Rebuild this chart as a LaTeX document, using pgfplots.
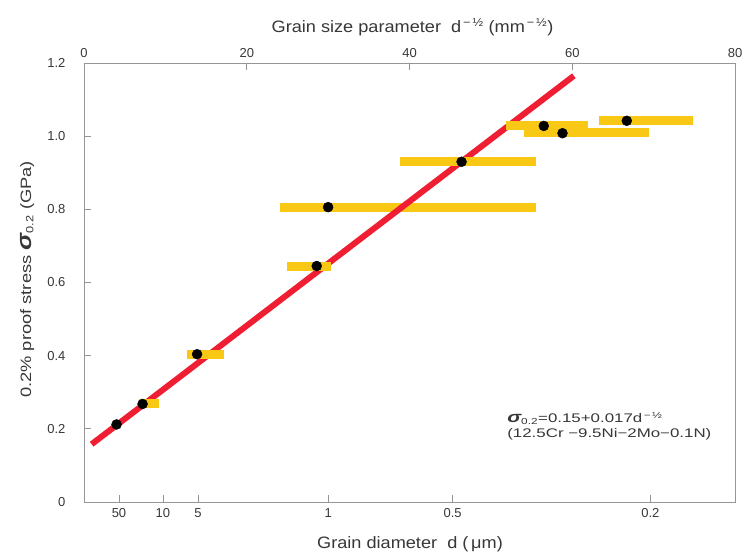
\documentclass[border=0pt]{standalone}
\usepackage{pgfplots}
\pgfplotsset{compat=1.18}
\usepackage{fontspec}
\setmainfont{Liberation Sans}
\newfontfamily\widea{Liberation Sans}[FakeStretch=1.1]
\newfontfamily\wideb{Liberation Sans}[FakeStretch=1.22]
\newfontfamily\widec{Liberation Sans}[FakeStretch=1.35]
\usetikzlibrary{calc}
\definecolor{redline}{RGB}{240,30,50}
\definecolor{goldbar}{RGB}{248,200,20}
\definecolor{axgray}{RGB}{150,150,150}
\definecolor{txt}{RGB}{55,55,55}
\begin{document}
\begin{tikzpicture}
\pgfplotsset{
 base/.style={scale only axis, width=651pt, height=439pt,
  xmin=0, xmax=80, ymin=0, ymax=1.2,
  axis line style={axgray, line width=0.8pt},
  tick style={axgray, line width=0.8pt},
  tick align=inside,
  ticklabel style={font=\fontsize{13}{15}\selectfont, text=txt},
  /pgf/number format/assume math mode=true,
 }
}
\begin{axis}[base, name=main,
  major tick length=7pt,
  xtick={4.3,9.7,14.0,30.0,45.3,69.6},
  xticklabels={50,10,5,1,0.5,0.2},
  xtick pos=bottom,
  xticklabel style={yshift=-3pt},
  ytick={0,0.2,0.4,0.6,0.8,1.0,1.2},
  yticklabels={0,0.2,0.4,0.6,0.8,1.0,1.2},
  ytick pos=left,
  yticklabel style={xshift=-15pt},
]
% wide bar drawn below the line
\addplot[goldbar, line width=9pt] coordinates {(24.1,0.806) (55.5,0.806)};
% Hall-Petch line
\addplot[redline, line width=6pt] coordinates {(0.94,0.158) (60.2,1.165)};
% other range bars
\addplot[goldbar, line width=9pt] coordinates {(6.7,0.268) (9.2,0.268)};
\addplot[goldbar, line width=9pt] coordinates {(12.6,0.402) (17.2,0.402)};
\addplot[goldbar, line width=9pt] coordinates {(25.0,0.645) (30.4,0.645)};
\addplot[goldbar, line width=9pt] coordinates {(38.8,0.932) (55.5,0.932)};
\addplot[goldbar, line width=9pt] coordinates {(54.1,1.009) (69.4,1.009)};
\addplot[goldbar, line width=9pt] coordinates {(51.9,1.028) (61.9,1.028)};
\addplot[goldbar, line width=9pt] coordinates {(63.3,1.042) (74.8,1.042)};
% data points
\addplot[only marks, mark=*, mark size=5pt, black] coordinates {
 (4.0,0.212) (7.2,0.268) (13.9,0.404) (28.6,0.645) (30.0,0.806)
 (46.4,0.930) (56.5,1.028) (58.8,1.008) (66.7,1.042)};
\node[anchor=base west, align=left, text=txt, font=\widec\fontsize{12.5}{15}\selectfont, inner sep=0pt]
  at (axis cs:52.0,0.175)
  {{\fontsize{15.5}{15}\bfseries\itshape σ}\textsubscript{0.2}=0.15+0.017d\textsuperscript{\,−\,½}\\
   (12.5Cr −9.5Ni−2Mo−0.1N)};
\end{axis}
\begin{axis}[base,
  axis x line*=top, axis y line=none,
  major tick length=7pt,
  xtick={0,20,40,60,80},
  xticklabel style={yshift=2pt},
]
\end{axis}
\node[anchor=base, text=txt, font=\widea\fontsize{16.5}{18}\selectfont] at ($(main.north)+(3pt,30pt)$)
  {Grain size parameter\ \ d\textsuperscript{\,−\,½}\ (mm\textsuperscript{\,−\,½})};
\node[anchor=base, text=txt, font=\widea\fontsize{16.5}{18}\selectfont] at ($(main.south)+(0.5pt,-46pt)$)
  {Grain diameter\ \ d (\,μm)};
\node[rotate=90, anchor=base, text=txt, font=\wideb\fontsize{15}{17}\selectfont] at ($(main.west)+(-53pt,3pt)$)
  {0.2\% proof stress {\fontsize{21}{21}\bfseries\itshape σ}\textsubscript{0.2} (GPa)};
\pgfresetboundingbox
\path ($(main.south west)+(-84pt,-51pt)$) rectangle ($(main.north east)+(19pt,63pt)$);
\end{tikzpicture}
\end{document}
